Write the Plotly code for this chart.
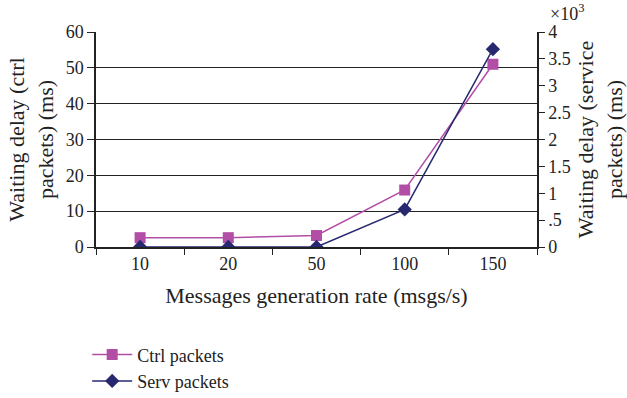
import plotly.graph_objects as go

rates = ["10", "20", "50", "100", "150"]
ctrl_delay_ms = [2.6, 2.6, 3.2, 15.9, 51.0]
serv_delay_ms = [0, 0, 0, 700, 3680]

right_tickvals = [0, 500, 1000, 1500, 2000, 2500, 3000, 3500, 4000]
right_ticktext = ["0", ".5", "1", "1.5", "2", "2.5", "3", "3.5", "4"]

FONT = "Liberation Serif, Times New Roman, serif"
CTRL_COLOR = "#B34EA6"
SERV_COLOR = "#27286F"
INK = "#222"

fig = go.Figure()
fig.add_trace(go.Scatter(
    x=rates, y=ctrl_delay_ms, name="Ctrl packets", mode="lines+markers",
    line=dict(color=CTRL_COLOR, width=1.5),
    marker=dict(symbol="square", size=11, color=CTRL_COLOR),
))
fig.add_trace(go.Scatter(
    x=rates, y=serv_delay_ms, name="Serv packets", mode="lines+markers",
    yaxis="y2",
    line=dict(color=SERV_COLOR, width=1.5),
    marker=dict(symbol="diamond", size=11, color=SERV_COLOR),
))

fig.update_layout(
    width=627, height=398,
    margin=dict(l=96, r=90, t=32, b=151, autoexpand=False),
    paper_bgcolor="white", plot_bgcolor="white",
    font=dict(family=FONT, size=18, color=INK),
    xaxis=dict(
        type="category", tickson="boundaries", ticks="outside", ticklen=6,
        tickcolor=INK, showline=True, linecolor=INK, linewidth=1.5,
        showgrid=False, range=[-0.5, 4.5], automargin=False,
        title=dict(text="Messages generation rate (msgs/s)", standoff=14),
    ),
    yaxis=dict(
        range=[0, 60], tickvals=[0, 10, 20, 30, 40, 50, 60],
        ticks="outside", ticklen=7, tickcolor=INK,
        showline=True, linecolor=INK, linewidth=1.5, automargin=False,
        showgrid=True, gridcolor=INK, gridwidth=1.2, zeroline=False,
        title=dict(text="Waiting delay (ctrl<br>packets) (ms)", standoff=6),
    ),
    yaxis2=dict(
        overlaying="y", side="right", range=[0, 4000],
        tickvals=right_tickvals, ticktext=right_ticktext,
        ticks="outside", ticklen=6, tickcolor=INK,
        showline=True, linecolor=INK, linewidth=1.5, automargin=False,
        showgrid=False, zeroline=False,
        title=dict(text="Waiting delay (service<br>packets) (ms)", standoff=8),
    ),
    legend=dict(
        x=-0.02, y=0.155, xanchor="left", yanchor="top", yref="container",
        font=dict(size=18), tracegroupgap=0, itemwidth=40,
        bgcolor="rgba(0,0,0,0)",
    ),
    annotations=[dict(
        text="×10<sup>3</sup>", xref="paper", yref="paper",
        x=1.025, y=1.0, xanchor="left", yanchor="bottom", yshift=6,
        showarrow=False, font=dict(family=FONT, size=18, color=INK),
    )],
)

fig.write_html("out.html")
